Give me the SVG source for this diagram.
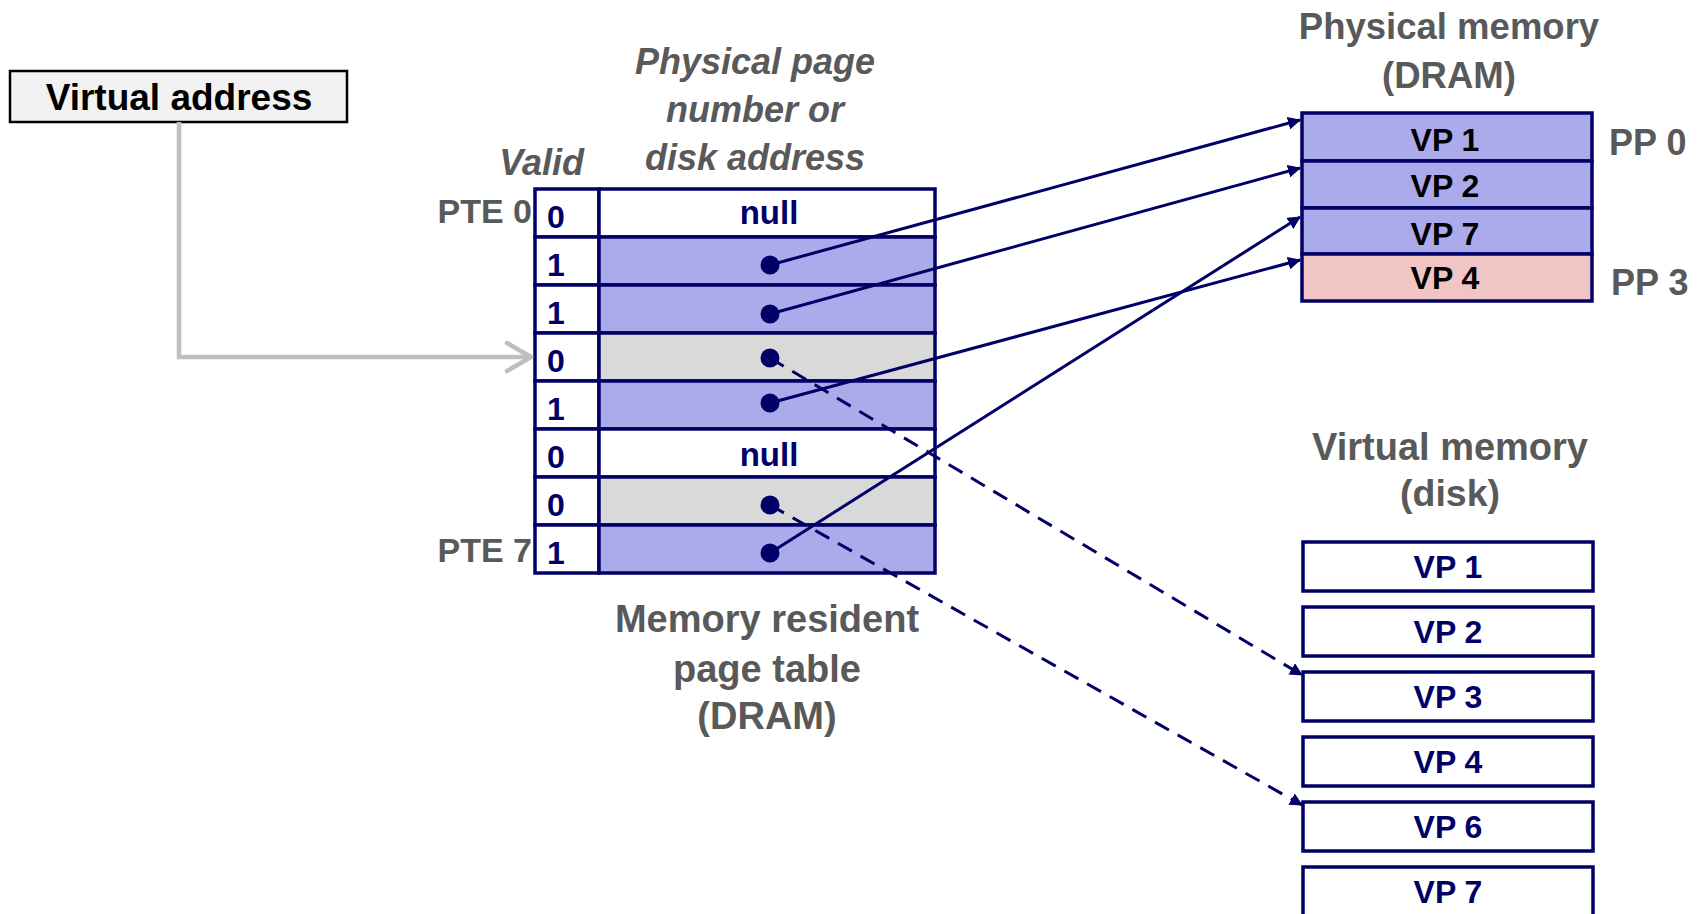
<svg xmlns="http://www.w3.org/2000/svg" width="1700" height="914" viewBox="0 0 1700 914">
<defs>
<style>
text{font-family:"Liberation Sans",Arial,sans-serif;font-weight:bold}
.gray{fill:#595959}
.navy{fill:#000066}
.blk{fill:#000}
.c{text-anchor:middle}
.it{font-style:italic}
.cell{stroke:#000066;stroke-width:3.5}
.blue{fill:#ababeb}
.grey{fill:#d9d9d9}
.white{fill:#fff}
.pink{fill:#f2c5c5}
.conn{stroke:#000066;stroke-width:3;fill:none}
.dash{stroke-dasharray:16 10}
.dot{fill:#000066}
</style>
<marker id="ah" viewBox="0 0 13 13" refX="12" refY="6.5" markerWidth="13" markerHeight="13" markerUnits="userSpaceOnUse" orient="auto">
<path d="M0,0 L13,6.5 L0,13 Z" fill="#000066"/>
</marker>
</defs>
<rect width="1700" height="914" fill="#fff"/>

<g id="virtual-address">
<rect x="10" y="71" width="337" height="51" fill="#f2f2f2" stroke="#000" stroke-width="2.5"/>
<text x="179" y="110" class="blk c" font-size="37">Virtual address</text>
</g>

<g id="headers">
<text x="584" y="175" class="gray it" font-size="36" text-anchor="end">Valid</text>
<text x="755" y="74" class="gray it c" font-size="36">Physical page</text>
<text x="755" y="122" class="gray it c" font-size="36">number or</text>
<text x="755" y="170" class="gray it c" font-size="36">disk address</text>
<text x="532" y="223" class="gray" font-size="34" text-anchor="end">PTE 0</text>
<text x="532" y="562" class="gray" font-size="34" text-anchor="end">PTE 7</text>
</g>

<g id="page-table">
<rect x="535" y="189" width="64" height="48" class="cell white"/><rect x="599" y="189" width="336" height="48" class="cell white"/>
<rect x="535" y="237" width="64" height="48" class="cell white"/><rect x="599" y="237" width="336" height="48" class="cell blue"/>
<rect x="535" y="285" width="64" height="48" class="cell white"/><rect x="599" y="285" width="336" height="48" class="cell blue"/>
<rect x="535" y="333" width="64" height="48" class="cell white"/><rect x="599" y="333" width="336" height="48" class="cell grey"/>
<rect x="535" y="381" width="64" height="48" class="cell white"/><rect x="599" y="381" width="336" height="48" class="cell blue"/>
<rect x="535" y="429" width="64" height="48" class="cell white"/><rect x="599" y="429" width="336" height="48" class="cell white"/>
<rect x="535" y="477" width="64" height="48" class="cell white"/><rect x="599" y="477" width="336" height="48" class="cell grey"/>
<rect x="535" y="525" width="64" height="48" class="cell white"/><rect x="599" y="525" width="336" height="48" class="cell blue"/>
<text x="556" y="228" class="navy c" font-size="32">0</text>
<text x="556" y="276" class="navy c" font-size="32">1</text>
<text x="556" y="324" class="navy c" font-size="32">1</text>
<text x="556" y="372" class="navy c" font-size="32">0</text>
<text x="556" y="420" class="navy c" font-size="32">1</text>
<text x="556" y="468" class="navy c" font-size="32">0</text>
<text x="556" y="516" class="navy c" font-size="32">0</text>
<text x="556" y="564" class="navy c" font-size="32">1</text>
<text x="769" y="224" class="navy c" font-size="33">null</text>
<text x="769" y="466" class="navy c" font-size="33">null</text>
</g>

<g id="page-table-label">
<text x="767" y="632" class="gray c" font-size="38">Memory resident</text>
<text x="767" y="682" class="gray c" font-size="38">page table</text>
<text x="767" y="729" class="gray c" font-size="38">(DRAM)</text>
</g>

<g id="physical-memory">
<text x="1449" y="39" class="gray c" font-size="36.5">Physical memory</text>
<text x="1449" y="88" class="gray c" font-size="36.5">(DRAM)</text>
<rect x="1302" y="113" width="290" height="48" class="cell blue"/>
<rect x="1302" y="161" width="290" height="47" class="cell blue"/>
<rect x="1302" y="208" width="290" height="46" class="cell blue"/>
<rect x="1302" y="254" width="290" height="47" class="cell pink"/>
<text x="1445" y="151" class="blk c" font-size="32">VP 1</text>
<text x="1445" y="197" class="blk c" font-size="32">VP 2</text>
<text x="1445" y="245" class="blk c" font-size="32">VP 7</text>
<text x="1445" y="289" class="blk c" font-size="32">VP 4</text>
<text x="1609" y="155" class="gray" font-size="36">PP 0</text>
<text x="1611" y="295" class="gray" font-size="36">PP 3</text>
</g>

<g id="virtual-memory">
<text x="1450" y="460" class="gray c" font-size="38">Virtual memory</text>
<text x="1450" y="506" class="gray c" font-size="37.5">(disk)</text>
<rect x="1303" y="542" width="290" height="49" class="cell white"/>
<rect x="1303" y="607" width="290" height="49" class="cell white"/>
<rect x="1303" y="672" width="290" height="49" class="cell white"/>
<rect x="1303" y="737" width="290" height="49" class="cell white"/>
<rect x="1303" y="802" width="290" height="49" class="cell white"/>
<rect x="1303" y="867" width="290" height="60" class="cell white"/>
<text x="1448" y="578" class="navy c" font-size="32">VP 1</text>
<text x="1448" y="643" class="navy c" font-size="32">VP 2</text>
<text x="1448" y="708" class="navy c" font-size="32">VP 3</text>
<text x="1448" y="773" class="navy c" font-size="32">VP 4</text>
<text x="1448" y="838" class="navy c" font-size="32">VP 6</text>
<text x="1448" y="903" class="navy c" font-size="32">VP 7</text>
</g>

<g id="connectors">
<polyline points="179,122 179,357 530,357" fill="none" stroke="#bfbfbf" stroke-width="4.5"/>
<polyline points="507,343 531,357 507,371" fill="none" stroke="#bfbfbf" stroke-width="4.5" stroke-linecap="round" stroke-linejoin="round"/>
<line x1="770" y1="265" x2="1300" y2="120" class="conn" marker-end="url(#ah)"/>
<line x1="770" y1="314" x2="1300" y2="168" class="conn" marker-end="url(#ah)"/>
<line x1="770" y1="403" x2="1300" y2="260" class="conn" marker-end="url(#ah)"/>
<line x1="770" y1="553" x2="1300" y2="217" class="conn" marker-end="url(#ah)"/>
<line x1="770" y1="358" x2="1302" y2="675" class="conn dash" marker-end="url(#ah)"/>
<line x1="770" y1="505" x2="1302" y2="805" class="conn dash" marker-end="url(#ah)"/>
<circle cx="770" cy="265" r="9.5" class="dot"/>
<circle cx="770" cy="314" r="9.5" class="dot"/>
<circle cx="770" cy="358" r="9.5" class="dot"/>
<circle cx="770" cy="403" r="9.5" class="dot"/>
<circle cx="770" cy="505" r="9.5" class="dot"/>
<circle cx="770" cy="553" r="9.5" class="dot"/>
</g>
</svg>
